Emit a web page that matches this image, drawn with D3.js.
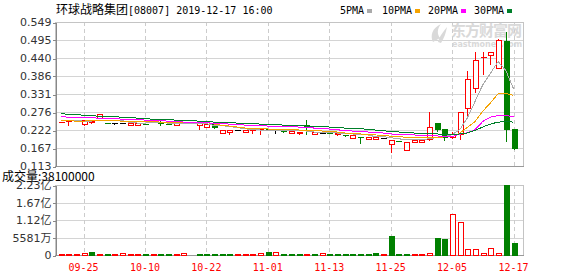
<!DOCTYPE html>
<html>
<head>
<meta charset="utf-8">
<script src="https://cdn.jsdelivr.net/npm/d3@7/dist/d3.min.js"></script>
<style>
    body { margin: 0; background: #fff; }
    svg { display: block; }
</style>
</head>
<body>
<svg id="chart"></svg>
<script>
const stockName = "环球战略集团";
const stockInfo = "[08007] 2019-12-17 16:00";
const volLabel = "成交量:";

const dates = ["09-20","09-23","09-24","09-25","09-26","09-27","09-30","10-03","10-04","10-08",
    "10-09","10-10","10-11","10-14","10-15","10-16","10-17","10-18","10-21","10-22",
    "10-23","10-24","10-25","10-28","10-29","10-30","10-31","11-01","11-04","11-05",
    "11-06","11-07","11-08","11-11","11-12","11-13","11-14","11-15","11-18","11-19",
    "11-20","11-21","11-22","11-25","11-26","11-27","11-28","11-29","12-02","12-03",
    "12-04","12-05","12-06","12-09","12-10","12-11","12-12","12-13","12-16","12-17"];
const dateTicks = ["09-25","10-10","10-22","11-01","11-13","11-25","12-05","12-17"];
const priceTicks = [0.549, 0.495, 0.440, 0.386, 0.331, 0.276, 0.222, 0.167, 0.113];

const prevClose = 0.246;
const opens = [0.247,0.248,0.249,0.239,0.244,0.257,0.243,0.243,0.243,0.236,
    0.236,0.240,0.245,0.245,0.240,0.235,0.243,0.243,0.236,0.231,
    0.239,0.212,0.215,0.221,0.215,0.222,0.224,0.224,0.221,0.220,
    0.212,0.211,0.236,0.208,0.213,0.212,0.207,0.207,0.197,0.200,
    0.194,0.194,0.198,0.179,0.188,0.160,0.184,0.184,0.192,0.241,
    0.223,0.198,0.207,0.286,0.347,0.443,0.448,0.408,0.489,0.223];
const highs = [0.247,0.248,0.249,0.250,0.250,0.270,0.243,0.243,0.243,0.243,
    0.243,0.240,0.255,0.249,0.240,0.243,0.243,0.243,0.242,0.239,
    0.239,0.222,0.221,0.221,0.221,0.222,0.224,0.224,0.221,0.220,
    0.216,0.215,0.253,0.213,0.213,0.212,0.213,0.207,0.204,0.200,
    0.199,0.198,0.198,0.189,0.188,0.184,0.189,0.189,0.276,0.241,
    0.223,0.215,0.274,0.401,0.457,0.457,0.457,0.497,0.519,0.223];
const lows = [0.247,0.234,0.249,0.235,0.241,0.257,0.243,0.236,0.243,0.236,
    0.236,0.240,0.245,0.235,0.240,0.234,0.243,0.243,0.221,0.231,
    0.225,0.212,0.208,0.221,0.215,0.211,0.208,0.220,0.210,0.214,
    0.212,0.207,0.207,0.208,0.213,0.212,0.205,0.201,0.197,0.179,
    0.194,0.194,0.198,0.153,0.188,0.160,0.184,0.184,0.190,0.215,
    0.190,0.195,0.192,0.263,0.335,0.390,0.418,0.408,0.187,0.162];
const closes = [0.247,0.248,0.249,0.250,0.249,0.268,0.243,0.243,0.243,0.243,
    0.243,0.240,0.250,0.242,0.240,0.243,0.243,0.243,0.242,0.239,
    0.229,0.222,0.221,0.221,0.221,0.222,0.224,0.221,0.221,0.220,
    0.216,0.215,0.234,0.213,0.213,0.212,0.211,0.207,0.204,0.200,
    0.199,0.198,0.198,0.189,0.188,0.184,0.189,0.189,0.231,0.223,
    0.198,0.207,0.274,0.375,0.431,0.443,0.457,0.492,0.223,0.167];
const volumes = [3000000,2800000,3100000,3300000,6500000,3000000,2900000,3000000,3200000,2800000,
    3000000,2900000,3100000,3000000,2800000,3000000,3200000,0,3000000,2900000,
    3100000,3000000,2800000,3100000,3000000,2900000,3200000,7500000,8000000,3000000,
    2800000,3100000,3000000,2900000,3200000,3000000,2800000,3000000,3100000,2900000,
    3000000,3200000,2800000,60000000,3000000,3100000,2900000,3000000,3200000,54000000,
    51000000,128000000,103000000,18000000,18000000,6000000,22000000,6000000,223240000,38100000];

const maNames = ["5PMA", "10PMA", "20PMA", "30PMA"];
const ma5 = [0.250,0.250,0.250,0.249,0.249,0.252,0.252,0.251,0.251,0.245,
    0.243,0.243,0.244,0.244,0.243,0.243,0.242,0.242,0.242,0.241,
    0.236,0.235,0.233,0.229,0.226,0.223,0.222,0.221,0.221,0.221,
    0.220,0.219,0.219,0.216,0.214,0.214,0.213,0.210,0.210,0.207,
    0.207,0.202,0.202,0.199,0.195,0.194,0.192,0.192,0.196,0.199,
    0.202,0.208,0.223,0.259,0.309,0.359,0.394,0.429,0.402,0.347];
const ma10 = [0.250,0.250,0.249,0.249,0.250,0.251,0.251,0.250,0.249,0.249,
    0.248,0.247,0.247,0.246,0.246,0.246,0.246,0.246,0.245,0.245,
    0.240,0.236,0.234,0.231,0.228,0.227,0.226,0.225,0.225,0.225,
    0.224,0.222,0.220,0.220,0.219,0.218,0.216,0.213,0.212,0.210,
    0.209,0.207,0.206,0.203,0.202,0.200,0.199,0.199,0.200,0.200,
    0.201,0.201,0.213,0.230,0.248,0.279,0.304,0.332,0.333,0.327];
const ma20 = [0.262,0.261,0.260,0.260,0.259,0.258,0.257,0.256,0.255,0.254,
    0.254,0.252,0.251,0.250,0.249,0.248,0.246,0.245,0.245,0.244,
    0.242,0.241,0.240,0.239,0.237,0.236,0.235,0.234,0.234,0.233,
    0.232,0.231,0.229,0.228,0.226,0.225,0.223,0.220,0.219,0.217,
    0.216,0.214,0.213,0.210,0.209,0.208,0.207,0.206,0.205,0.204,
    0.203,0.202,0.209,0.214,0.223,0.248,0.261,0.266,0.266,0.262];
const ma30 = [0.271,0.270,0.268,0.267,0.265,0.264,0.263,0.262,0.261,0.260,
    0.258,0.256,0.255,0.254,0.253,0.252,0.251,0.250,0.249,0.247,
    0.246,0.245,0.244,0.243,0.242,0.241,0.240,0.239,0.238,0.237,
    0.236,0.235,0.234,0.233,0.232,0.231,0.229,0.228,0.227,0.226,
    0.224,0.222,0.220,0.217,0.216,0.215,0.213,0.212,0.211,0.210,
    0.209,0.208,0.210,0.213,0.221,0.231,0.240,0.246,0.247,0.246];

const UP = "#ff0000", DOWN = "#008000", FLAT = "#000000";
const maColors = ["#aaaaaa", "#f5a300", "#ff00ff", "#007f2a"];
const CJK = "'Noto Sans CJK SC', sans-serif";
const MONO = "'DejaVu Sans Mono', monospace";
const SANS = "'DejaVu Sans', sans-serif";

class KChart {
    frame = { left: 55, right: 523, top: 22, bottom: 166, volTop: 185, volBottom: 255 }

    constructor(svg, width = 578, height = 276) {
        this.svg = d3.select(svg);
        this.width = width;
        this.height = height;
        this.data = dates.map((d, i) => ({
            date: d, open: opens[i], high: highs[i], low: lows[i], close: closes[i],
            vol: volumes[i], prev: i === 0 ? prevClose : closes[i - 1]
        }));
    }

    initialize() {
        const f = this.frame;
        this.svg.attr("width", this.width).attr("height", this.height);

        this.x = d3.scalePoint().domain(dates).range([60.5, 513.5]);
        this.y = d3.scaleLinear().domain([0.113, 0.549]).range([f.bottom, f.top]);
        const volMax = d3.max(volumes);
        this.yv = d3.scaleLinear().domain([0, volMax]).range([f.volBottom, f.volTop]);
        const volTicks = [0, 1, 2, 3, 4].map(k => volMax * k / 4);

        const grid = this.svg.append("g").attr("shape-rendering", "crispEdges");
        // horizontal grid
        grid.selectAll(".hp").data(priceTicks).join("line")
            .attr("x1", f.left).attr("x2", f.right)
            .attr("y1", d => Math.round(this.y(d)) + 0.5).attr("y2", d => Math.round(this.y(d)) + 0.5)
            .attr("stroke", "#d4d4d4");
        grid.selectAll(".hv").data(volTicks).join("line")
            .attr("x1", f.left).attr("x2", f.right)
            .attr("y1", d => Math.round(this.yv(d)) + 0.5).attr("y2", d => Math.round(this.yv(d)) + 0.5)
            .attr("stroke", "#d4d4d4");
        // vertical dashed lines at date ticks
        [[f.top, f.bottom], [f.volTop, f.volBottom]].forEach(([t, b]) => {
            grid.append("g").selectAll("line").data(dateTicks).join("line")
                .attr("x1", d => Math.round(this.x(d)) + 0.5).attr("x2", d => Math.round(this.x(d)) + 0.5)
                .attr("y1", t).attr("y2", b)
                .attr("stroke", "#cccccc").attr("stroke-dasharray", "4,3");
        });

        // panel borders
        [[f.top, f.bottom], [f.volTop, f.volBottom]].forEach(([t, b]) => {
            grid.append("rect")
                .attr("x", f.left + 0.5).attr("y", t + 0.5)
                .attr("width", f.right - f.left).attr("height", b - t)
                .attr("fill", "none").attr("stroke", "#c4c4c4");
            grid.append("line")
                .attr("x1", f.left).attr("x2", f.right + 1)
                .attr("y1", b + 0.5).attr("y2", b + 0.5)
                .attr("stroke", "#999");
        });

        // axes
        const priceAxis = this.svg.append("g")
            .attr("transform", `translate(${f.left + 0.5},0.5)`)
            .call(d3.axisLeft(this.y).tickValues(priceTicks).tickFormat(d3.format(".3f"))
                .tickSize(3).tickSizeOuter(0).tickPadding(1));
        const volAxis = this.svg.append("g")
            .attr("transform", `translate(${f.left + 0.5},0.5)`)
            .call(d3.axisLeft(this.yv).tickValues(volTicks).tickFormat(v => {
                if (v === 0) return "0";
                if (v >= 1e8) return (v / 1e8).toFixed(2) + "亿";
                return Math.round(v / 1e4) + "万";
            }).tickSize(3).tickSizeOuter(0).tickPadding(1));
        [priceAxis, volAxis].forEach(a => {
            a.attr("shape-rendering", "crispEdges");
            a.selectAll("path, line").attr("stroke", "#888");
            a.selectAll("text").attr("font-family", SANS).attr("font-size", 11)
                .attr("fill", "#333").attr("dy", "0.3em");
        });
        volAxis.selectAll("text").attr("font-family", `'DejaVu Sans', 'Noto Sans CJK SC', sans-serif`);

        // date labels
        this.svg.append("g").selectAll("text").data(dateTicks).join("text")
            .attr("x", d => this.x(d)).attr("y", 271)
            .attr("text-anchor", "middle")
            .attr("font-family", MONO).attr("font-size", 10)
            .attr("fill", UP)
            .text(d => d);

        this.drawWatermark();
        this.drawCandles();
        this.drawMA();
        this.drawVolume();
        this.drawHeader();
    }

    colorOf(d) {
        if (d.close > d.open) return UP;
        if (d.close < d.open) return DOWN;
        return d.close > d.prev ? UP : d.close < d.prev ? DOWN : FLAT;
    }

    drawCandles() {
        const self = this;
        const half = 2.5;
        this.svg.append("g").attr("shape-rendering", "crispEdges")
            .selectAll("g").data(this.data).join("g")
            .each(function(d) {
                const g = d3.select(this);
                const cx = Math.round(self.x(d.date)) + 0.5;
                const c = self.colorOf(d);
                const yTop = self.y(Math.max(d.open, d.close));
                const yBot = self.y(Math.min(d.open, d.close));

                // wick
                g.append("line")
                    .attr("x1", cx).attr("x2", cx)
                    .attr("y1", self.y(d.high)).attr("y2", self.y(d.low))
                    .attr("stroke", c);

                if (d.close === d.open) {
                    g.append("line")
                        .attr("x1", cx - half - 0.5).attr("x2", cx + half + 0.5)
                        .attr("y1", Math.round(yTop) + 0.5).attr("y2", Math.round(yTop) + 0.5)
                        .attr("stroke", c);
                } else {
                    g.append("rect")
                        .attr("x", cx - half).attr("y", yTop)
                        .attr("width", half * 2).attr("height", Math.max(1, yBot - yTop))
                        .attr("fill", d.close > d.open ? "#fff" : c)
                        .attr("stroke", c);
                }
            });
    }

    drawMA() {
        const line = d3.line()
            .x((d, i) => this.x(dates[i]))
            .y(d => this.y(d));
        const g = this.svg.append("g");
        [ma5, ma10, ma20, ma30].forEach((series, k) => {
            g.append("path")
                .attr("d", line(series))
                .attr("fill", "none")
                .attr("stroke", maColors[k])
                .attr("stroke-width", 1)
                .attr("shape-rendering", "crispEdges");
        });
    }

    drawVolume() {
        const self = this;
        const half = 2.5;
        const base = this.yv(0);
        this.svg.append("g").attr("shape-rendering", "crispEdges")
            .selectAll("rect").data(this.data.filter(d => d.vol > 0)).join("rect")
            .attr("x", d => Math.round(self.x(d.date)) + 0.5 - half)
            .attr("y", d => self.yv(d.vol))
            .attr("width", half * 2)
            .attr("height", d => Math.max(0.8, base - self.yv(d.vol)))
            .attr("fill", d => d.close >= d.prev ? "#fff" : DOWN)
            .attr("stroke", d => d.close >= d.prev ? UP : DOWN);
    }

    drawWatermark() {
        const g = this.svg.append("g").attr("fill", "#d9d9d9");
        g.append("path")
            .attr("d", "M433,42 C430,36 432,28 441,24 C437,29 437,34 440,38 Z M438,42 C440,35 444,31 447,27 C446,33 444,38 441,43 Z");
        g.append("text")
            .attr("x", 451).attr("y", 36)
            .attr("font-family", CJK).attr("font-size", 15).attr("font-weight", "bold")
            .attr("textLength", 71)
            .text("东方财富网");
        g.append("text")
            .attr("x", 452).attr("y", 47)
            .attr("font-family", SANS).attr("font-size", 8).attr("font-weight", "bold")
            .attr("textLength", 70)
            .text("eastmoney.com");
    }

    drawHeader() {
        const t = this.svg.append("text").attr("x", 56).attr("y", 14).attr("fill", "#000");
        t.append("tspan").attr("font-family", CJK).attr("font-size", 12).text(stockName);
        t.append("tspan").attr("font-family", MONO).attr("font-size", 10).text(stockInfo);

        const legendX = [340, 382, 428, 474];
        maNames.forEach((name, k) => {
            this.svg.append("text")
                .attr("x", legendX[k]).attr("y", 14)
                .attr("font-family", MONO).attr("font-size", 10)
                .attr("fill", "#000")
                .text(name);
            this.svg.append("rect")
                .attr("x", legendX[k] + name.length * 6 + 3).attr("y", 9)
                .attr("width", 5).attr("height", 4)
                .attr("fill", maColors[k]);
        });

        const last = this.data[this.data.length - 1];
        this.svg.append("text")
            .attr("x", 2).attr("y", 181)
            .attr("font-family", CJK).attr("font-size", 12)
            .attr("fill", "#000")
            .text(volLabel + last.vol);
    }
}

const chart = new KChart("#chart");
chart.initialize();
</script>
</body>
</html>
